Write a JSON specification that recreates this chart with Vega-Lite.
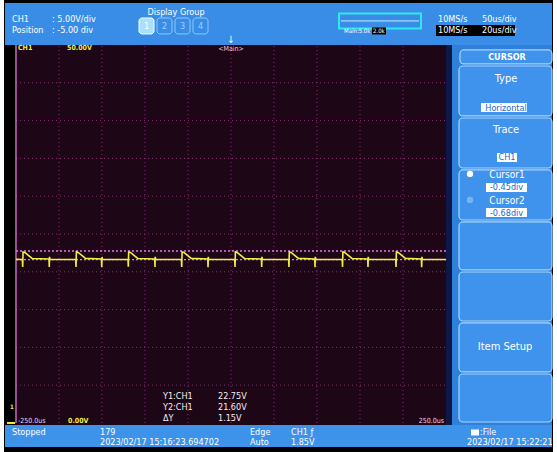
{
  "$schema": "https://vega.github.io/schema/vega-lite/v6.json",
  "width": 557,
  "height": 452,
  "autosize": {"type": "fit", "contains": "padding"},
  "padding": 0,
  "background": "#ffffff",
  "config": {"view": {"stroke": null}, "axis": {"disable": true}, "text": {"font": "DejaVu Sans Condensed"}},
  "data": {"values": [{}]},
  "datasets": {
    "wave": [
      {"t": -250, "v": 21.64},
      {"t": -242.6, "v": 21.63}, {"t": -242.2, "v": 20.65}, {"t": -241.8, "v": 22.62}, {"t": -239.7, "v": 22.55}, {"t": -231.2, "v": 21.76},
      {"t": -211.6, "v": 21.68}, {"t": -211.3, "v": 20.62}, {"t": -211.0, "v": 21.98}, {"t": -210.5, "v": 21.66},
      {"t": -180.6, "v": 21.62}, {"t": -180.2, "v": 20.64}, {"t": -179.8, "v": 22.63}, {"t": -177.7, "v": 22.56}, {"t": -169.2, "v": 21.77},
      {"t": -150.6, "v": 21.68}, {"t": -150.3, "v": 20.6}, {"t": -150.0, "v": 21.96}, {"t": -149.5, "v": 21.65},
      {"t": -119.8, "v": 21.62}, {"t": -119.4, "v": 20.66}, {"t": -119.0, "v": 22.62}, {"t": -116.9, "v": 22.55}, {"t": -108.4, "v": 21.76},
      {"t": -88.7, "v": 21.68}, {"t": -88.4, "v": 20.62}, {"t": -88.1, "v": 21.97}, {"t": -87.6, "v": 21.66},
      {"t": -57.7, "v": 21.62}, {"t": -57.3, "v": 20.64}, {"t": -56.9, "v": 22.64}, {"t": -54.8, "v": 22.56}, {"t": -46.3, "v": 21.77},
      {"t": -27.0, "v": 21.68}, {"t": -26.7, "v": 20.6}, {"t": -26.4, "v": 21.98}, {"t": -25.9, "v": 21.65},
      {"t": 4.3, "v": 21.62}, {"t": 4.7, "v": 20.65}, {"t": 5.1, "v": 22.63}, {"t": 7.2, "v": 22.55}, {"t": 15.7, "v": 21.76},
      {"t": 35.4, "v": 21.68}, {"t": 35.7, "v": 20.62}, {"t": 36.0, "v": 21.97}, {"t": 36.5, "v": 21.66},
      {"t": 67.0, "v": 21.62}, {"t": 67.4, "v": 20.64}, {"t": 67.8, "v": 22.62}, {"t": 69.9, "v": 22.55}, {"t": 78.4, "v": 21.77},
      {"t": 97.4, "v": 21.68}, {"t": 97.7, "v": 20.6}, {"t": 98.0, "v": 21.98}, {"t": 98.5, "v": 21.65},
      {"t": 129.3, "v": 21.62}, {"t": 129.7, "v": 20.65}, {"t": 130.1, "v": 22.63}, {"t": 132.2, "v": 22.56}, {"t": 140.7, "v": 21.76},
      {"t": 159.0, "v": 21.68}, {"t": 159.3, "v": 20.62}, {"t": 159.6, "v": 21.97}, {"t": 160.1, "v": 21.66},
      {"t": 191.5, "v": 21.62}, {"t": 191.9, "v": 20.64}, {"t": 192.3, "v": 22.62}, {"t": 194.4, "v": 22.55}, {"t": 202.9, "v": 21.77},
      {"t": 221.4, "v": 21.68}, {"t": 221.7, "v": 20.6}, {"t": 222.0, "v": 21.98}, {"t": 222.5, "v": 21.65},
      {"t": 250, "v": 21.63}
    ],
    "gridT": [{"t": -200}, {"t": -150}, {"t": -100}, {"t": -50}, {"t": 0}, {"t": 50}, {"t": 100}, {"t": 150}, {"t": 200}],
    "gridV": [{"v": 5}, {"v": 10}, {"v": 15}, {"v": 20}, {"v": 25}, {"v": 30}, {"v": 35}, {"v": 40}, {"v": 45}],
    "cursors": [{"cursor": "Cursor1", "v": 22.75}, {"cursor": "Cursor2", "v": 21.6}]
  },
  "layer": [
    {"mark": {"type": "rect", "color": "#000000"}, "encoding": {"x": {"datum": -263.95, "type": "quantitative", "scale": {"domain": [-268.6, 379.07], "nice": false, "zero": false}}, "x2": {"datum": 374.42}, "y": {"datum": 55.95, "type": "quantitative", "scale": {"domain": [-3.84, 55.95], "nice": false, "zero": false}}, "y2": {"datum": -3.84}}},
    {"mark": {"type": "rect", "color": "#3a8de6"}, "encoding": {"x": {"datum": -262.79, "type": "quantitative"}, "x2": {"datum": 373.26}, "y": {"datum": 55.56, "type": "quantitative"}, "y2": {"datum": 50.0}}},
    {"mark": {"type": "rect", "color": "#2f80da"}, "encoding": {"x": {"datum": 256.98, "type": "quantitative"}, "x2": {"datum": 373.26}, "y": {"datum": 50.0, "type": "quantitative"}, "y2": {"datum": -0.26}}},
    {"mark": {"type": "rect", "color": "#0e1848"}, "encoding": {"x": {"datum": 250, "type": "quantitative"}, "x2": {"datum": 256.98}, "y": {"datum": 50.0, "type": "quantitative"}, "y2": {"datum": -0.26}}},
    {"mark": {"type": "rect", "color": "#1d0616"}, "encoding": {"x": {"datum": -251.16, "type": "quantitative"}, "x2": {"datum": 250}, "y": {"datum": 50.0, "type": "quantitative"}, "y2": {"datum": -0.26}}},
    {"mark": {"type": "rect", "color": "#3d92ea"}, "encoding": {"x": {"datum": -262.79, "type": "quantitative"}, "x2": {"datum": 373.26}, "y": {"datum": -0.26, "type": "quantitative"}, "y2": {"datum": -3.17}}},

    {"data": {"name": "gridT"}, "mark": {"type": "rule", "color": "#8a3078", "strokeDash": [1, 3], "strokeWidth": 1}, "encoding": {"x": {"field": "t", "type": "quantitative"}, "y": {"datum": 0, "type": "quantitative"}, "y2": {"datum": 50}}},
    {"data": {"name": "gridV"}, "mark": {"type": "rule", "color": "#8a3078", "strokeDash": [1, 3], "strokeWidth": 1}, "encoding": {"y": {"field": "v", "type": "quantitative"}, "x": {"datum": -250, "type": "quantitative"}, "x2": {"datum": 250}}},
    {"mark": {"type": "rule", "color": "#c468c0", "strokeWidth": 1.5}, "encoding": {"x": {"datum": -250, "type": "quantitative"}, "y": {"datum": 0, "type": "quantitative"}, "y2": {"datum": 50}}},
    {"data": {"name": "cursors"}, "mark": {"type": "rule", "color": "#e67ae6", "strokeDash": [2, 2], "strokeWidth": 1.3}, "encoding": {"y": {"field": "v", "type": "quantitative"}, "x": {"datum": -250, "type": "quantitative"}, "x2": {"datum": 250}}},
    {"data": {"name": "wave"}, "mark": {"type": "line", "color": "#eeee44", "strokeWidth": 1.6}, "encoding": {"x": {"field": "t", "type": "quantitative", "scale": {"domain": [-268.6, 379.07], "nice": false, "zero": false}}, "y": {"field": "v", "type": "quantitative", "scale": {"domain": [-3.84, 55.95], "nice": false, "zero": false}}}},

    {"mark": {"type": "text", "text": "CH1", "align": "left", "baseline": "middle", "fontSize": 9, "color": "#ffffff"}, "encoding": {"x": {"datum": -254.65, "type": "quantitative"}, "y": {"datum": 53.44, "type": "quantitative"}}},
    {"mark": {"type": "text", "text": ": 5.00V/div", "align": "left", "baseline": "middle", "fontSize": 9, "color": "#ffffff"}, "encoding": {"x": {"datum": -208.14, "type": "quantitative"}, "y": {"datum": 53.44, "type": "quantitative"}}},
    {"mark": {"type": "text", "text": "Position", "align": "left", "baseline": "middle", "fontSize": 9, "color": "#ffffff"}, "encoding": {"x": {"datum": -254.65, "type": "quantitative"}, "y": {"datum": 51.98, "type": "quantitative"}}},
    {"mark": {"type": "text", "text": ": -5.00 div", "align": "left", "baseline": "middle", "fontSize": 9, "color": "#ffffff"}, "encoding": {"x": {"datum": -208.14, "type": "quantitative"}, "y": {"datum": 51.98, "type": "quantitative"}}},
    {"mark": {"type": "text", "text": "Display Group", "align": "center", "baseline": "middle", "fontSize": 9, "color": "#ffffff"}, "encoding": {"x": {"datum": -63.95, "type": "quantitative"}, "y": {"datum": 54.37, "type": "quantitative"}}},
    {"mark": {"type": "rect", "color": "#a8e0ff", "stroke": "#ffffff", "strokeWidth": 1, "cornerRadius": 3}, "encoding": {"x": {"datum": -106.98, "type": "quantitative"}, "x2": {"datum": -89.53}, "y": {"datum": 53.57, "type": "quantitative"}, "y2": {"datum": 51.46}}},
    {"mark": {"type": "rect", "color": "#3a8de6", "stroke": "#8cc8ff", "strokeWidth": 1, "cornerRadius": 3}, "encoding": {"x": {"datum": -86.05, "type": "quantitative"}, "x2": {"datum": -68.60}, "y": {"datum": 53.57, "type": "quantitative"}, "y2": {"datum": 51.46}}},
    {"mark": {"type": "rect", "color": "#3a8de6", "stroke": "#8cc8ff", "strokeWidth": 1, "cornerRadius": 3}, "encoding": {"x": {"datum": -65.12, "type": "quantitative"}, "x2": {"datum": -47.67}, "y": {"datum": 53.57, "type": "quantitative"}, "y2": {"datum": 51.46}}},
    {"mark": {"type": "rect", "color": "#3a8de6", "stroke": "#8cc8ff", "strokeWidth": 1, "cornerRadius": 3}, "encoding": {"x": {"datum": -44.19, "type": "quantitative"}, "x2": {"datum": -26.74}, "y": {"datum": 53.57, "type": "quantitative"}, "y2": {"datum": 51.46}}},
    {"mark": {"type": "text", "text": "1", "align": "center", "baseline": "middle", "fontSize": 9, "color": "#ffffff"}, "encoding": {"x": {"datum": -98.26, "type": "quantitative"}, "y": {"datum": 52.51, "type": "quantitative"}}},
    {"mark": {"type": "text", "text": "2", "align": "center", "baseline": "middle", "fontSize": 9, "color": "#9fd0ff"}, "encoding": {"x": {"datum": -77.33, "type": "quantitative"}, "y": {"datum": 52.51, "type": "quantitative"}}},
    {"mark": {"type": "text", "text": "3", "align": "center", "baseline": "middle", "fontSize": 9, "color": "#9fd0ff"}, "encoding": {"x": {"datum": -56.40, "type": "quantitative"}, "y": {"datum": 52.51, "type": "quantitative"}}},
    {"mark": {"type": "text", "text": "4", "align": "center", "baseline": "middle", "fontSize": 9, "color": "#9fd0ff"}, "encoding": {"x": {"datum": -35.47, "type": "quantitative"}, "y": {"datum": 52.51, "type": "quantitative"}}},
    {"mark": {"type": "text", "text": "↓", "align": "center", "baseline": "middle", "fontSize": 10, "color": "#ffffff"}, "encoding": {"x": {"datum": 0, "type": "quantitative"}, "y": {"datum": 50.66, "type": "quantitative"}}},

    {"mark": {"type": "rect", "fill": null, "stroke": "#30e8f0", "strokeWidth": 2}, "encoding": {"x": {"datum": 125.58, "type": "quantitative"}, "x2": {"datum": 220.93}, "y": {"datum": 54.17, "type": "quantitative"}, "y2": {"datum": 52.18}}},
    {"mark": {"type": "rule", "color": "#c8ecff", "strokeWidth": 1}, "encoding": {"x": {"datum": 127.91, "type": "quantitative"}, "x2": {"datum": 218.60}, "y": {"datum": 53.18, "type": "quantitative"}}},
    {"mark": {"type": "text", "text": "Main:5.0k", "align": "left", "baseline": "middle", "fontSize": 6, "color": "#ffffff"}, "encoding": {"x": {"datum": 131.40, "type": "quantitative"}, "y": {"datum": 51.85, "type": "quantitative"}}},
    {"mark": {"type": "rect", "color": "#000000"}, "encoding": {"x": {"datum": 163.95, "type": "quantitative"}, "x2": {"datum": 180.23}, "y": {"datum": 52.32, "type": "quantitative"}, "y2": {"datum": 51.39}}},
    {"mark": {"type": "text", "text": "2.0k", "align": "left", "baseline": "middle", "fontSize": 6, "color": "#ffffff"}, "encoding": {"x": {"datum": 165.12, "type": "quantitative"}, "y": {"datum": 51.85, "type": "quantitative"}}},
    {"mark": {"type": "text", "text": "10MS/s", "align": "left", "baseline": "middle", "fontSize": 9, "color": "#ffffff"}, "encoding": {"x": {"datum": 240.70, "type": "quantitative"}, "y": {"datum": 53.44, "type": "quantitative"}}},
    {"mark": {"type": "text", "text": "50us/div", "align": "left", "baseline": "middle", "fontSize": 9, "color": "#ffffff"}, "encoding": {"x": {"datum": 291.86, "type": "quantitative"}, "y": {"datum": 53.44, "type": "quantitative"}}},
    {"mark": {"type": "rect", "color": "#000000"}, "encoding": {"x": {"datum": 238.37, "type": "quantitative"}, "x2": {"datum": 330.23}, "y": {"datum": 52.65, "type": "quantitative"}, "y2": {"datum": 51.19}}},
    {"mark": {"type": "text", "text": "10MS/s", "align": "left", "baseline": "middle", "fontSize": 9, "color": "#ffffff"}, "encoding": {"x": {"datum": 240.70, "type": "quantitative"}, "y": {"datum": 51.92, "type": "quantitative"}}},
    {"mark": {"type": "text", "text": "20us/div", "align": "left", "baseline": "middle", "fontSize": 9, "color": "#ffffff"}, "encoding": {"x": {"datum": 291.86, "type": "quantitative"}, "y": {"datum": 51.92, "type": "quantitative"}}},

    {"mark": {"type": "text", "text": "CH1", "align": "left", "baseline": "middle", "fontSize": 7, "fontWeight": "bold", "color": "#f0f040"}, "encoding": {"x": {"datum": -247.67, "type": "quantitative"}, "y": {"datum": 49.54, "type": "quantitative"}}},
    {"mark": {"type": "text", "text": "50.00V", "align": "left", "baseline": "middle", "fontSize": 7, "fontWeight": "bold", "color": "#f0f040"}, "encoding": {"x": {"datum": -190.70, "type": "quantitative"}, "y": {"datum": 49.54, "type": "quantitative"}}},
    {"mark": {"type": "text", "text": "<Main>", "align": "center", "baseline": "middle", "fontSize": 7, "color": "#f0c8f0"}, "encoding": {"x": {"datum": 0, "type": "quantitative"}, "y": {"datum": 49.47, "type": "quantitative"}}},
    {"mark": {"type": "text", "text": "-250.0us", "align": "left", "baseline": "middle", "fontSize": 7, "color": "#f0d0f0"}, "encoding": {"x": {"datum": -247.67, "type": "quantitative"}, "y": {"datum": 0.26, "type": "quantitative"}}},
    {"mark": {"type": "text", "text": "0.00V", "align": "left", "baseline": "middle", "fontSize": 7, "fontWeight": "bold", "color": "#f0f040"}, "encoding": {"x": {"datum": -189.53, "type": "quantitative"}, "y": {"datum": 0.26, "type": "quantitative"}}},
    {"mark": {"type": "text", "text": "250.0us", "align": "right", "baseline": "middle", "fontSize": 7, "color": "#f0d0f0"}, "encoding": {"x": {"datum": 247.67, "type": "quantitative"}, "y": {"datum": 0.26, "type": "quantitative"}}},
    {"mark": {"type": "text", "text": "1", "align": "center", "baseline": "middle", "fontSize": 6, "fontWeight": "bold", "color": "#f0f040"}, "encoding": {"x": {"datum": -254.65, "type": "quantitative"}, "y": {"datum": 2.12, "type": "quantitative"}}},
    {"mark": {"type": "rule", "color": "#f0f040", "strokeWidth": 2}, "encoding": {"x": {"datum": -260.47, "type": "quantitative"}, "x2": {"datum": -251.16}, "y": {"datum": 0, "type": "quantitative"}}},
    {"mark": {"type": "text", "text": "Y1:CH1", "align": "left", "baseline": "middle", "fontSize": 9, "color": "#f4f0f4"}, "encoding": {"x": {"datum": -79.07, "type": "quantitative"}, "y": {"datum": 3.57, "type": "quantitative"}}},
    {"mark": {"type": "text", "text": "Y2:CH1", "align": "left", "baseline": "middle", "fontSize": 9, "color": "#f4f0f4"}, "encoding": {"x": {"datum": -79.07, "type": "quantitative"}, "y": {"datum": 2.12, "type": "quantitative"}}},
    {"mark": {"type": "text", "text": "ΔY", "align": "left", "baseline": "middle", "fontSize": 9, "color": "#f4f0f4"}, "encoding": {"x": {"datum": -79.07, "type": "quantitative"}, "y": {"datum": 0.66, "type": "quantitative"}}},
    {"mark": {"type": "text", "text": "22.75V", "align": "left", "baseline": "middle", "fontSize": 9, "color": "#f4f0f4"}, "encoding": {"x": {"datum": -15.12, "type": "quantitative"}, "y": {"datum": 3.57, "type": "quantitative"}}},
    {"mark": {"type": "text", "text": "21.60V", "align": "left", "baseline": "middle", "fontSize": 9, "color": "#f4f0f4"}, "encoding": {"x": {"datum": -15.12, "type": "quantitative"}, "y": {"datum": 2.12, "type": "quantitative"}}},
    {"mark": {"type": "text", "text": "1.15V", "align": "left", "baseline": "middle", "fontSize": 9, "color": "#f4f0f4"}, "encoding": {"x": {"datum": -15.12, "type": "quantitative"}, "y": {"datum": 0.66, "type": "quantitative"}}},

    {"mark": {"type": "text", "text": "Stopped", "align": "left", "baseline": "middle", "fontSize": 9, "color": "#ffffff"}, "encoding": {"x": {"datum": -254.65, "type": "quantitative"}, "y": {"datum": -1.26, "type": "quantitative"}}},
    {"mark": {"type": "text", "text": "179", "align": "left", "baseline": "middle", "fontSize": 9, "color": "#ffffff"}, "encoding": {"x": {"datum": -152.33, "type": "quantitative"}, "y": {"datum": -1.26, "type": "quantitative"}}},
    {"mark": {"type": "text", "text": "2023/02/17 15:16:23.694702", "align": "left", "baseline": "middle", "fontSize": 9, "color": "#ffffff"}, "encoding": {"x": {"datum": -152.33, "type": "quantitative"}, "y": {"datum": -2.51, "type": "quantitative"}}},
    {"mark": {"type": "text", "text": "Edge", "align": "left", "baseline": "middle", "fontSize": 9, "color": "#ffffff"}, "encoding": {"x": {"datum": 22.09, "type": "quantitative"}, "y": {"datum": -1.26, "type": "quantitative"}}},
    {"mark": {"type": "text", "text": "Auto", "align": "left", "baseline": "middle", "fontSize": 9, "color": "#ffffff"}, "encoding": {"x": {"datum": 22.09, "type": "quantitative"}, "y": {"datum": -2.51, "type": "quantitative"}}},
    {"mark": {"type": "text", "text": "CH1 ƒ", "align": "left", "baseline": "middle", "fontSize": 9, "color": "#ffffff"}, "encoding": {"x": {"datum": 69.77, "type": "quantitative"}, "y": {"datum": -1.26, "type": "quantitative"}}},
    {"mark": {"type": "text", "text": "1.85V", "align": "left", "baseline": "middle", "fontSize": 9, "color": "#ffffff"}, "encoding": {"x": {"datum": 69.77, "type": "quantitative"}, "y": {"datum": -2.51, "type": "quantitative"}}},
    {"mark": {"type": "rect", "color": "#ffffff"}, "encoding": {"x": {"datum": 279.07, "type": "quantitative"}, "x2": {"datum": 288.37}, "y": {"datum": -0.86, "type": "quantitative"}, "y2": {"datum": -1.65}}},
    {"mark": {"type": "text", "text": ":File", "align": "left", "baseline": "middle", "fontSize": 9, "color": "#ffffff"}, "encoding": {"x": {"datum": 289.53, "type": "quantitative"}, "y": {"datum": -1.26, "type": "quantitative"}}},
    {"mark": {"type": "text", "text": "2023/02/17 15:22:21", "align": "left", "baseline": "middle", "fontSize": 9, "color": "#ffffff"}, "encoding": {"x": {"datum": 274.42, "type": "quantitative"}, "y": {"datum": -2.51, "type": "quantitative"}}},

    {"mark": {"type": "rect", "color": "#3f93ec", "stroke": "#a8d4ff", "strokeWidth": 1.2, "cornerRadius": 4}, "encoding": {"x": {"datum": 266.28, "type": "quantitative"}, "x2": {"datum": 373.26}, "y": {"datum": 49.34, "type": "quantitative"}, "y2": {"datum": 47.49}}},
    {"mark": {"type": "rect", "color": "#3f93ec", "stroke": "#a8d4ff", "strokeWidth": 1.2, "cornerRadius": 4}, "encoding": {"x": {"datum": 265.12, "type": "quantitative"}, "x2": {"datum": 373.26}, "y": {"datum": 47.22, "type": "quantitative"}, "y2": {"datum": 40.61}}},
    {"mark": {"type": "rect", "color": "#3f93ec", "stroke": "#a8d4ff", "strokeWidth": 1.2, "cornerRadius": 4}, "encoding": {"x": {"datum": 265.12, "type": "quantitative"}, "x2": {"datum": 373.26}, "y": {"datum": 40.34, "type": "quantitative"}, "y2": {"datum": 33.73}}},
    {"mark": {"type": "rect", "color": "#3f93ec", "stroke": "#a8d4ff", "strokeWidth": 1.2, "cornerRadius": 4}, "encoding": {"x": {"datum": 265.12, "type": "quantitative"}, "x2": {"datum": 373.26}, "y": {"datum": 33.47, "type": "quantitative"}, "y2": {"datum": 26.85}}},
    {"mark": {"type": "rect", "color": "#3f93ec", "stroke": "#a8d4ff", "strokeWidth": 1.2, "cornerRadius": 4}, "encoding": {"x": {"datum": 265.12, "type": "quantitative"}, "x2": {"datum": 373.26}, "y": {"datum": 26.59, "type": "quantitative"}, "y2": {"datum": 20.24}}},
    {"mark": {"type": "rect", "color": "#3f93ec", "stroke": "#a8d4ff", "strokeWidth": 1.2, "cornerRadius": 4}, "encoding": {"x": {"datum": 265.12, "type": "quantitative"}, "x2": {"datum": 373.26}, "y": {"datum": 19.97, "type": "quantitative"}, "y2": {"datum": 13.49}}},
    {"mark": {"type": "rect", "color": "#3f93ec", "stroke": "#a8d4ff", "strokeWidth": 1.2, "cornerRadius": 4}, "encoding": {"x": {"datum": 265.12, "type": "quantitative"}, "x2": {"datum": 373.26}, "y": {"datum": 13.23, "type": "quantitative"}, "y2": {"datum": 6.75}}},
    {"mark": {"type": "rect", "color": "#3f93ec", "stroke": "#a8d4ff", "strokeWidth": 1.2, "cornerRadius": 4}, "encoding": {"x": {"datum": 265.12, "type": "quantitative"}, "x2": {"datum": 373.26}, "y": {"datum": 6.48, "type": "quantitative"}, "y2": {"datum": 0.13}}},
    {"mark": {"type": "text", "text": "CURSOR", "align": "center", "baseline": "middle", "fontSize": 9, "fontWeight": "bold", "color": "#ffffff"}, "encoding": {"x": {"datum": 320.93, "type": "quantitative"}, "y": {"datum": 48.41, "type": "quantitative"}}},
    {"mark": {"type": "text", "text": "Type", "align": "center", "baseline": "middle", "fontSize": 11, "color": "#ffffff"}, "encoding": {"x": {"datum": 319.77, "type": "quantitative"}, "y": {"datum": 45.5, "type": "quantitative"}}},
    {"mark": {"type": "rect", "color": "#ffffff"}, "encoding": {"x": {"datum": 290.70, "type": "quantitative"}, "x2": {"datum": 344.19}, "y": {"datum": 42.33, "type": "quantitative"}, "y2": {"datum": 41.14}}},
    {"mark": {"type": "text", "text": "Horizontal", "align": "center", "baseline": "middle", "fontSize": 9, "color": "#2266cc"}, "encoding": {"x": {"datum": 319.77, "type": "quantitative"}, "y": {"datum": 41.73, "type": "quantitative"}}},
    {"mark": {"type": "text", "text": "Trace", "align": "center", "baseline": "middle", "fontSize": 11, "color": "#ffffff"}, "encoding": {"x": {"datum": 319.77, "type": "quantitative"}, "y": {"datum": 38.76, "type": "quantitative"}}},
    {"mark": {"type": "rect", "color": "#ffffff"}, "encoding": {"x": {"datum": 309.30, "type": "quantitative"}, "x2": {"datum": 332.56}, "y": {"datum": 35.71, "type": "quantitative"}, "y2": {"datum": 34.52}}},
    {"mark": {"type": "text", "text": "CH1", "align": "center", "baseline": "middle", "fontSize": 9, "color": "#2266cc"}, "encoding": {"x": {"datum": 320.93, "type": "quantitative"}, "y": {"datum": 35.12, "type": "quantitative"}}},
    {"mark": {"type": "point", "shape": "circle", "filled": true, "size": 40, "color": "#ffffff", "opacity": 1}, "encoding": {"x": {"datum": 277.91, "type": "quantitative"}, "y": {"datum": 32.94, "type": "quantitative"}}},
    {"mark": {"type": "point", "shape": "circle", "filled": true, "size": 40, "color": "#78b4f0", "opacity": 1}, "encoding": {"x": {"datum": 277.91, "type": "quantitative"}, "y": {"datum": 29.5, "type": "quantitative"}}},
    {"mark": {"type": "text", "text": "Cursor1", "align": "center", "baseline": "middle", "fontSize": 10, "color": "#ffffff"}, "encoding": {"x": {"datum": 320.93, "type": "quantitative"}, "y": {"datum": 32.8, "type": "quantitative"}}},
    {"mark": {"type": "rect", "color": "#ffffff"}, "encoding": {"x": {"datum": 296.51, "type": "quantitative"}, "x2": {"datum": 344.19}, "y": {"datum": 31.75, "type": "quantitative"}, "y2": {"datum": 30.56}}},
    {"mark": {"type": "text", "text": "-0.45div", "align": "center", "baseline": "middle", "fontSize": 9, "color": "#2266cc"}, "encoding": {"x": {"datum": 320.35, "type": "quantitative"}, "y": {"datum": 31.15, "type": "quantitative"}}},
    {"mark": {"type": "text", "text": "Cursor2", "align": "center", "baseline": "middle", "fontSize": 10, "color": "#ffffff"}, "encoding": {"x": {"datum": 320.93, "type": "quantitative"}, "y": {"datum": 29.37, "type": "quantitative"}}},
    {"mark": {"type": "rect", "color": "#ffffff"}, "encoding": {"x": {"datum": 296.51, "type": "quantitative"}, "x2": {"datum": 344.19}, "y": {"datum": 28.44, "type": "quantitative"}, "y2": {"datum": 27.25}}},
    {"mark": {"type": "text", "text": "-0.68div", "align": "center", "baseline": "middle", "fontSize": 9, "color": "#2266cc"}, "encoding": {"x": {"datum": 320.35, "type": "quantitative"}, "y": {"datum": 27.84, "type": "quantitative"}}},
    {"mark": {"type": "text", "text": "Item Setup", "align": "center", "baseline": "middle", "fontSize": 11, "color": "#ffffff"}, "encoding": {"x": {"datum": 318.6, "type": "quantitative"}, "y": {"datum": 10.05, "type": "quantitative"}}}
  ]
}
